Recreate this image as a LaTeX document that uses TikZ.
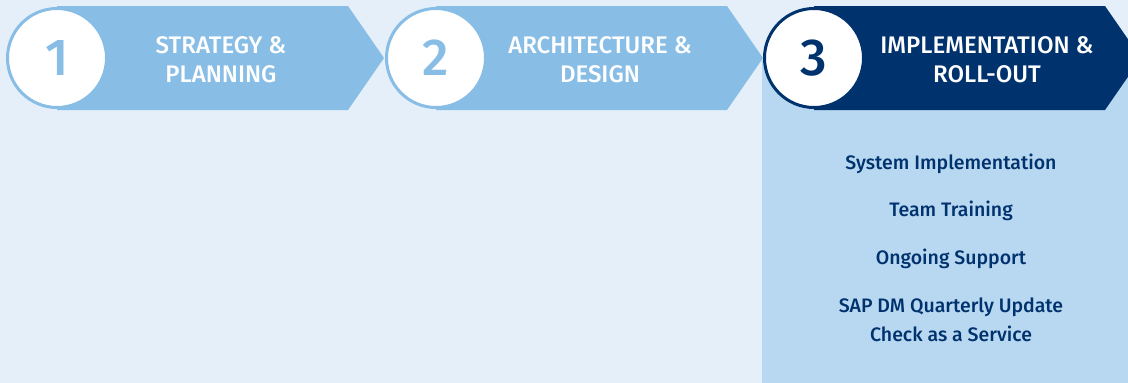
\documentclass[tikz,border=0pt]{standalone}
\usepackage{fontspec}
\setmainfont{Fira Sans}[BoldFont={* Medium}]
\definecolor{bgblue}{HTML}{E4EFF9}
\definecolor{stepblue}{HTML}{88BDE6}
\definecolor{navyblue}{HTML}{00326E}
\definecolor{panelblue}{HTML}{B8D8F1}
\begin{document}
\begin{tikzpicture}[x=1pt, y=-1pt,
  numcircle/.style={circle, draw=stepblue, line width=3pt, fill=white, minimum size=99pt, inner sep=0pt, text=stepblue, font=\bfseries\fontsize{52}{52}\selectfont},
  steptitle/.style={text=white, align=center, font=\bfseries\fontsize{24}{29}\selectfont},
  task/.style={text=navyblue, align=center, font=\bfseries\fontsize{19.5}{29}\selectfont}]
	\fill[bgblue] (0,0) rectangle (1128,383);
	\useasboundingbox (0,0) rectangle (1128,383);
	\clip (0,0) rectangle (1128,383);
	% panel under step 3
	\fill[panelblue] (762,60) rectangle (1128,383);
	% step 1
	\fill[stepblue] (57,6) -- (348,6) -- (384,58) -- (348,110) -- (57,110) -- cycle;
	\node[numcircle] (c1) at (57,58) {1};
	\node[steptitle] (t1) at (221,60) {STRATEGY \&\\PLANNING};
	% step 2
	\fill[stepblue] (436,6) -- (727,6) -- (763,58) -- (727,110) -- (436,110) -- cycle;
	\node[numcircle] (c2) at (436,58) {2};
	\node[steptitle] (t2) at (600,60) {ARCHITECTURE \&\\DESIGN};
	% step 3
	\fill[navyblue] (814,6) -- (1105,6) -- (1141,58) -- (1105,110) -- (814,110) -- cycle;
	\node[numcircle, draw=navyblue, text=navyblue] (c3) at (814,58) {3};
	\node[steptitle] (t3) at (987,60) {IMPLEMENTATION \&\\ROLL-OUT};
	% tasks of step 3
	\node[task] (sysimpl) at (951,164) {System Implementation};
	\node[task] (training) at (951,211) {Team Training};
	\node[task] (support) at (951,259) {Ongoing Support};
	\node[task] (updcheck) at (951,320) {SAP DM Quarterly Update\\Check as a Service};
\end{tikzpicture}
\end{document}
